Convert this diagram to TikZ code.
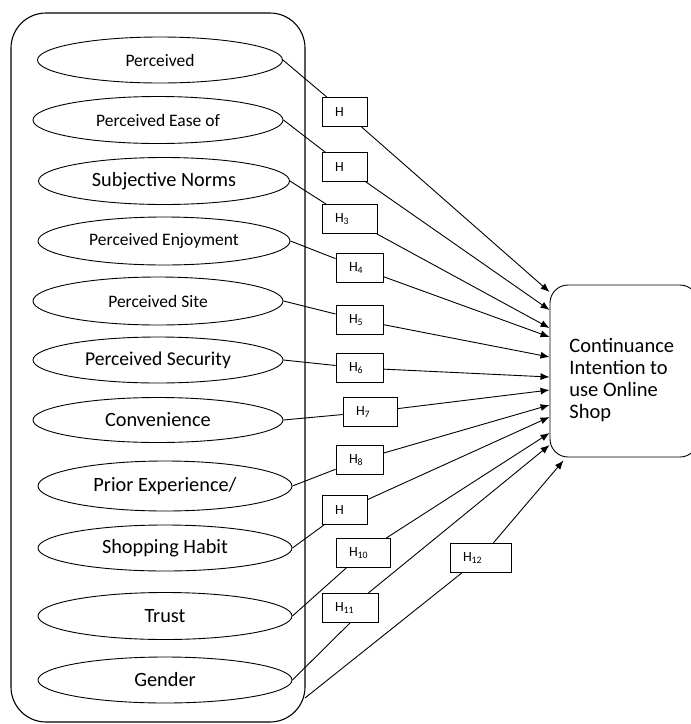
\documentclass[tikz,border=0pt]{standalone}
\usepackage{fontspec}
\setmainfont{Carlito}
\usetikzlibrary{shapes,arrows.meta,positioning,calc}

\begin{document}
\begin{tikzpicture}[x=1pt, y=-1pt, line width=0.9pt, >={Latex[length=9pt,width=7pt]},
    factor/.style={draw, ellipse, inner sep=0pt, minimum width=250pt, minimum height=47pt},
    smalltxt/.style={font=\fontsize{17.5}{20}\selectfont},
    bigtxt/.style={font=\fontsize{20.3}{23}\selectfont},
    hyp/.style={draw, rectangle, fill=white, inner xsep=13pt, inner ysep=0pt, minimum height=29pt, align=left, font=\fontsize{14}{16}\selectfont},
    groupbox/.style={draw, rounded corners=35pt, minimum width=294pt, minimum height=709pt, line width=1.1pt},
    outcome/.style={draw, rounded corners=18pt, minimum width=148pt, minimum height=172pt}]
    \useasboundingbox (0,0) rectangle (691,724);

    % left group of factors
    \node (grp) [groupbox] at (158,367.5) {};
    \node (e1) [factor, smalltxt, minimum width=245pt, minimum height=46pt] at (160,60) {Perceived};
    \node (e2) [factor, smalltxt] at (158,120) {Perceived Ease of};
    \node (e3) [factor, bigtxt, minimum width=251pt] at (164,181) {Subjective Norms};
    \node (e4) [factor, smalltxt, minimum width=252pt, minimum height=48pt] at (164,241) {Perceived Enjoyment};
    \node (e5) [factor, smalltxt, minimum height=48pt] at (158,301) {Perceived Site};
    \node (e6) [factor, font=\fontsize{19.6}{22}\selectfont, minimum height=46pt] at (158,360) {Perceived Security};
    \node (e7) [factor, bigtxt, minimum height=45pt] at (158,420) {Convenience};
    \node (e8) [factor, bigtxt, minimum width=254pt, minimum height=50pt] at (165,486) {Prior Experience/};
    \node (e9) [factor, bigtxt, minimum width=254pt, minimum height=46pt] at (165,548) {Shopping Habit};
    \node (e10) [factor, bigtxt, minimum width=254pt] at (165,616) {Trust};
    \node (e11) [factor, bigtxt, minimum width=254pt, minimum height=46pt] at (165,680) {Gender};
    \coordinate (gout) at (305,698);

    % outcome
    \node (tgt) [outcome] at (624,371) {};
    \node (tgtlbl) [anchor=north west, inner sep=0pt, align=left, font=\fontsize{20.5}{22}\selectfont] at (569,338) {Continuance\\Intention to\\use Online\\Shop};

    % hypotheses
    \node (h1) [hyp, text width=19pt] at (344.5,112) {H};
    \node (h2) [hyp, text width=19pt] at (344.5,167) {H};
    \node (h3) [hyp, text width=29pt] at (349.5,219) {H\textsubscript{3}};
    \node (h4) [hyp, text width=21pt] at (359.5,268) {H\textsubscript{4}};
    \node (h5) [hyp, text width=21pt] at (359.5,320) {H\textsubscript{5}};
    \node (h6) [hyp, text width=21pt] at (359.5,368) {H\textsubscript{6}};
    \node (h7) [hyp, text width=28pt] at (370,412) {H\textsubscript{7}};
    \node (h8) [hyp, text width=21pt] at (359.5,460) {H\textsubscript{8}};
    \node (h9) [hyp, text width=19pt] at (344.5,510) {H};
    \node (h10) [hyp, text width=28pt] at (363,553) {H\textsubscript{10}};
    \node (h11) [hyp, text width=30pt] at (350,608) {H\textsubscript{11}};
    \node (h12) [hyp, text width=35pt] at (480.5,558) {H\textsubscript{12}};

    % factor to hypothesis
    \draw (e1.east) -- (h1);
    \draw (e2.east) -- (h2);
    \draw (e3.east) -- (h3);
    \draw (e4.east) -- (h4);
    \draw (e5.east) -- (h5);
    \draw (e6.east) -- (h6);
    \draw (e7.east) -- (h7);
    \draw (e8.east) -- (h8);
    \draw (e9.east) -- (h9);
    \draw (e10.east) -- (h10);
    \draw (e11.east) -- (h11.south);
    \draw (gout) -- (h12);

    % hypothesis to outcome
    \draw [->] (h1) -- ([yshift=79pt]tgt.west);
    \draw [->] (h2) -- ([yshift=61pt]tgt.west);
    \draw [->] (h3) -- ([yshift=43pt]tgt.west);
    \draw [->] (h4) -- ([yshift=34pt]tgt.west);
    \draw [->] (h5) -- ([yshift=14pt]tgt.west);
    \draw [->] (h6) -- ([yshift=-6pt]tgt.west);
    \draw [->] (h7) -- ([yshift=-19pt]tgt.west);
    \draw [->] (h8) -- ([yshift=-34pt]tgt.west);
    \draw [->] (h9) -- ([yshift=-46pt]tgt.west);
    \draw [->] (h10) -- ([yshift=-62pt]tgt.west);
    \draw [->] (h11) -- ([yshift=-74pt]tgt.west);
    \draw [->] (h12) -- ([xshift=14pt,yshift=-3pt]tgt.south west);
\end{tikzpicture}
\end{document}
